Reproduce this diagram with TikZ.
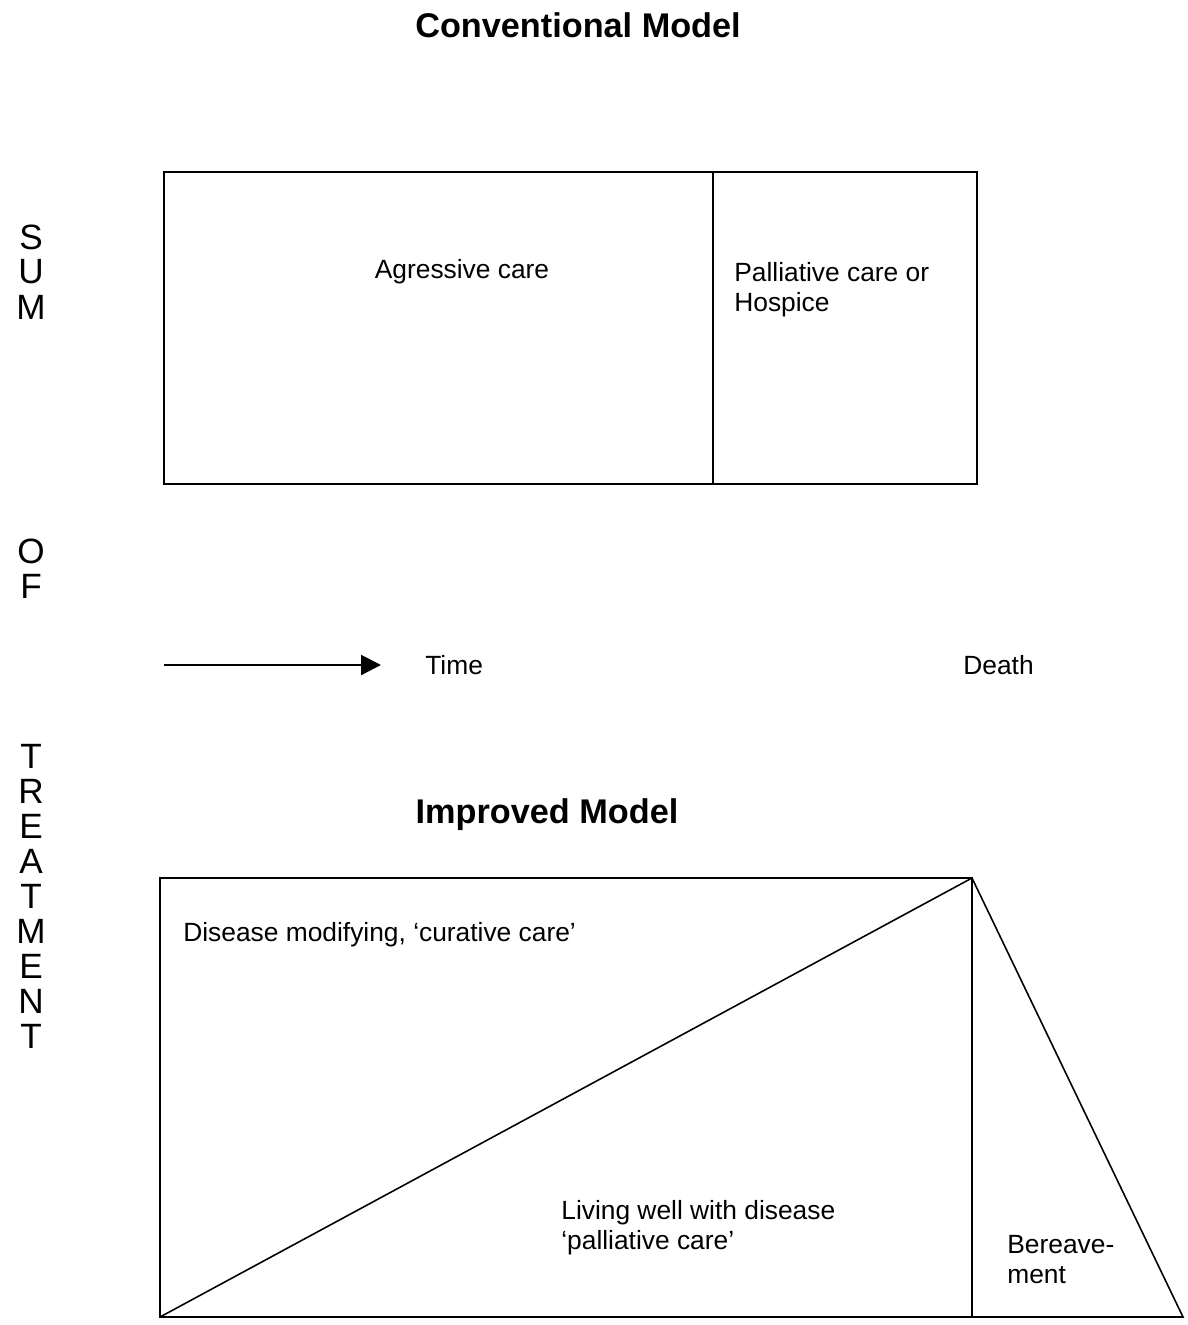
\documentclass[tikz,border=0pt]{standalone}
\usepackage{fontspec}
\setmainfont{Liberation Sans}
\usetikzlibrary{arrows.meta}

\tikzset{
    txt/.style={font=\fontsize{15}{17}\selectfont,inner sep=0pt},
    heading/.style={font=\fontsize{19.5}{22}\selectfont\bfseries,inner sep=0pt},
    sideletter/.style={font=\fontsize{20}{22}\selectfont,inner sep=0pt},
    frame/.style={line width=0.9pt}
}

\begin{document}
\begin{tikzpicture}[x=0.02cm,y=-0.02cm,>={Triangle[length=0.4cm,width=0.4cm]}]
    \useasboundingbox (0,0) rectangle (1187,1325);

    \foreach \ch/\yy [count=\i] in {S/237,U/272,M/307,O/551,F/586,T/756,R/791,E/826,A/861,T/896,M/931,E/966,N/1001,T/1036}
        \node[sideletter] (side\i) at (31,\yy) {\ch};

    \begin{scope}
        \node[heading] (conv) at (578,25) {Conventional Model};
        \coordinate (topNW) at (164,172);
        \coordinate (topSE) at (977,484);
        \coordinate (divN) at (713,172);
        \coordinate (divS) at (713,484);
        \draw[frame] (topNW) rectangle (topSE);
        \draw[frame] (divN) -- (divS);
        \node[txt] (aggr) at (462,272) {Agressive care};
        \node[txt,align=left,anchor=north west] (pall) at (734,262) {Palliative care or\\Hospice};

        \coordinate (timeStart) at (164,665);
        \coordinate (timeEnd) at (381,665);
        \draw[->,line width=1.2pt] (timeStart) -- (timeEnd);
        \node[txt,anchor=west] (time) at (425,665) {Time};
        \node[txt,anchor=west] (death) at (963,665) {Death};
    \end{scope}

    \begin{scope}
        \node[heading] (impr) at (547,815) {Improved Model};
        \coordinate (botNW) at (160,878);
        \coordinate (botNE) at (972,878);
        \coordinate (botSE) at (972,1317);
        \coordinate (botSW) at (160,1317);
        \coordinate (bereaveSE) at (1183,1317);
        \draw[frame] (botNW) rectangle (botSE);
        \draw[frame] (botSW) -- (botNE) -- (bereaveSE) -- (botSE);
        \node[txt,anchor=west] (curative) at (183,935) {Disease modifying, `curative care'};
        \node[txt,align=left,anchor=north west] (living) at (561,1200) {Living well with disease\\`palliative care'};
        \node[txt,align=left,anchor=north west] (bereave) at (1007,1235) {Bereave-\\ment};
    \end{scope}
\end{tikzpicture}
\end{document}
